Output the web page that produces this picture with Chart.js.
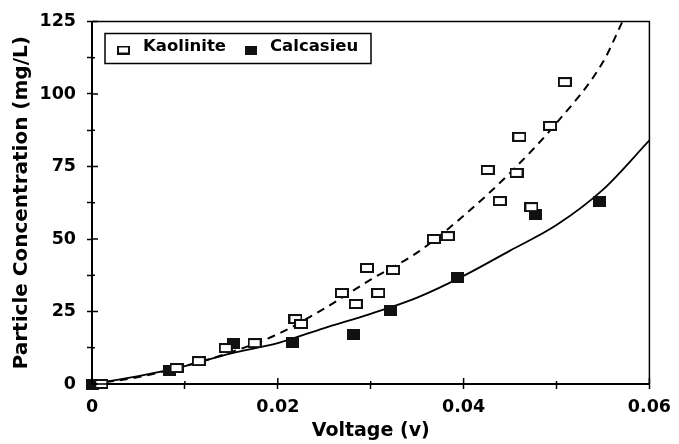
<!DOCTYPE html>
<html>
<head>
<meta charset="utf-8">
<script src="https://cdn.jsdelivr.net/npm/chart.js@4.4.1/dist/chart.umd.min.js"></script>
<style>
  html, body { margin: 0; padding: 0; background: #fff; }
  #wrap { width: 679px; height: 444px; }
</style>
</head>
<body>
<div id="wrap"><canvas id="grafik" width="679" height="444"></canvas></div>
<script>
// measured points (voltage, mg/L)
const kaolinX = [0.001, 0.0091, 0.0115, 0.0144, 0.0175, 0.0219, 0.0225, 0.0269, 0.0284, 0.0296, 0.0308,
                 0.0324, 0.0368, 0.0383, 0.0426, 0.0439, 0.0457, 0.0460, 0.0473, 0.0493, 0.0509];
const kaolinY = [0, 5.5, 7.9, 12.4, 14.1, 22.4, 20.7, 31.4, 27.6, 40.0, 31.4,
                 39.3, 50.0, 51.0, 73.8, 63.1, 72.8, 85.2, 61.0, 89.0, 104.1];
const calcX = [0, 0.0083, 0.0152, 0.0216, 0.0281, 0.0321, 0.0393, 0.0477, 0.0546];
const calcY = [0, 4.8, 14.0, 14.2, 17.2, 25.2, 36.6, 58.3, 62.8];

// fitted curves
const kaolinFitX = [0, 0.005, 0.01, 0.015, 0.02, 0.025, 0.03, 0.035, 0.04, 0.045, 0.05, 0.055, 0.0571];
const kaolinFitY = [0, 2.4, 6.2, 11, 17.2, 26, 36, 45.3, 58, 72.8, 90, 111, 125];
const calcFitX = [0, 0.005, 0.01, 0.015, 0.02, 0.025, 0.03, 0.035, 0.04, 0.045, 0.05, 0.055, 0.06];
const calcFitY = [0, 2.7, 6.2, 10.6, 14.1, 19.3, 24.2, 29.8, 37.3, 46, 54.8, 67, 84];

// ticks
const xMajor = [0, 0.02, 0.04, 0.06];
const xMinor = [0.01, 0.03, 0.05];
const yMajor = [0, 25, 50, 75, 100, 125];
const yMinor = [12.5, 37.5, 62.5, 87.5, 112.5];

function gabung(xs, ys) {
  return xs.map((x, i) => ({ x: x, y: ys[i] }));
}

// square markers as little canvases
function kotak(w, h, isi) {
  const c = document.createElement('canvas');
  c.width = w;
  c.height = h;
  const g = c.getContext('2d');
  if (isi) {
    g.fillStyle = '#111';
    g.fillRect(0, 0, w, h);
  } else {
    g.fillStyle = '#fff';
    g.fillRect(0, 0, w, h);
    g.strokeStyle = '#111';
    g.lineWidth = 2;
    g.strokeRect(1, 1, w - 2, h - 2);
  }
  return c;
}
const kotakKosong = kotak(14, 10, false);
const kotakPenuh = kotak(13, 11, true);
const legendKosong = kotak(13, 9, false);
const legendPenuh = kotak(12, 9, true);

const huruf = 'DejaVu Sans';

// frame, inward tick marks and the boxed legend
const hiasan = {
  id: 'hiasan',
  afterDraw(chart) {
    const { ctx, chartArea: a, scales } = chart;
    ctx.save();
    ctx.strokeStyle = '#000';
    ctx.lineWidth = 1.5;
    ctx.strokeRect(a.left, a.top, a.right - a.left, a.bottom - a.top);

    scales.x.ticks.forEach(t => {
      const p = scales.x.getPixelForValue(t.value);
      const len = xMajor.includes(t.value) ? 6 : 3;
      ctx.beginPath();
      ctx.moveTo(p, a.bottom);
      ctx.lineTo(p, a.bottom - len);
      ctx.stroke();
    });
    scales.y.ticks.forEach(t => {
      const p = scales.y.getPixelForValue(t.value);
      const len = yMajor.includes(t.value) ? 6 : 3;
      ctx.beginPath();
      ctx.moveTo(a.left, p);
      ctx.lineTo(a.left + len, p);
      ctx.stroke();
    });

    // legend
    const ds = chart.data.datasets;
    const bx = a.left + 13;
    const by = a.top + 12;
    ctx.fillStyle = '#fff';
    ctx.fillRect(bx, by, 266, 30);
    ctx.strokeRect(bx, by, 266, 30);
    ctx.font = 'bold 16.5px ' + huruf;
    ctx.fillStyle = '#000';
    ctx.textBaseline = 'alphabetic';
    ctx.drawImage(legendKosong, bx + 12, by + 12);
    ctx.fillText(ds[0].label, bx + 38, by + 17);
    ctx.drawImage(legendPenuh, bx + 140, by + 12);
    ctx.fillText(ds[1].label, bx + 165, by + 17);
    ctx.restore();
  }
};

const ctx = document.getElementById('grafik').getContext('2d');
new Chart(ctx, {
  type: 'scatter',
  data: {
    datasets: [
      {
        label: 'Kaolinite',
        data: gabung(kaolinX, kaolinY),
        pointStyle: kotakKosong,
        pointRadius: 6,
        clip: false,
        order: 0
      },
      {
        label: 'Calcasieu',
        data: gabung(calcX, calcY),
        pointStyle: kotakPenuh,
        pointRadius: 6,
        clip: false,
        order: 0
      },
      {
        label: 'Kaolinite fit',
        data: gabung(kaolinFitX, kaolinFitY),
        showLine: true,
        pointRadius: 0,
        borderColor: '#000',
        borderWidth: 2,
        borderDash: [8, 6],
        cubicInterpolationMode: 'monotone',
        order: 1
      },
      {
        label: 'Calcasieu fit',
        data: gabung(calcFitX, calcFitY),
        showLine: true,
        pointRadius: 0,
        borderColor: '#000',
        borderWidth: 1.8,
        cubicInterpolationMode: 'monotone',
        order: 1
      }
    ]
  },
  options: {
    responsive: false,
    animation: false,
    layout: {
      padding: { top: 21, right: 22, left: 0, bottom: 0 }
    },
    plugins: {
      tooltip: { enabled: false },
      legend: { display: false }
    },
    scales: {
      x: {
        type: 'linear',
        min: 0,
        max: 0.06,
        afterFit: s => { s.height = 60; },
        afterBuildTicks: s => {
          s.ticks = xMajor.concat(xMinor).sort((a, b) => a - b).map(v => ({ value: v }));
        },
        ticks: {
          autoSkip: false,
          maxRotation: 0,
          padding: 8,
          color: '#000',
          font: { family: huruf, size: 17.5, weight: 'bold' },
          callback: v => xMajor.includes(v) ? String(v) : ''
        },
        grid: {
          drawOnChartArea: false,
          tickLength: 5,
          tickColor: '#000',
          tickWidth: 1.5
        },
        border: { color: '#000', width: 2 },
        title: {
          display: true,
          text: 'Voltage (v)',
          color: '#000',
          font: { family: huruf, size: 19, weight: 'bold' },
          padding: { top: 0, bottom: 2 }
        }
      },
      y: {
        type: 'linear',
        min: 0,
        max: 125,
        afterFit: s => { s.width = 92; },
        afterBuildTicks: s => {
          s.ticks = yMajor.concat(yMinor).sort((a, b) => a - b).map(v => ({ value: v }));
        },
        ticks: {
          autoSkip: false,
          padding: 11,
          color: '#000',
          font: { family: huruf, size: 17.5, weight: 'bold' },
          callback: v => yMajor.includes(v) ? String(v) : ''
        },
        grid: {
          drawOnChartArea: false,
          tickLength: 5,
          tickColor: '#000',
          tickWidth: 1.5
        },
        border: { color: '#000', width: 2 },
        title: {
          display: true,
          text: 'Particle Concentration (mg/L)',
          color: '#000',
          font: { family: huruf, size: 20, weight: 'bold' },
          padding: { top: 10, bottom: 0 }
        }
      }
    }
  },
  plugins: [hiasan]
});
</script>
</body>
</html>
